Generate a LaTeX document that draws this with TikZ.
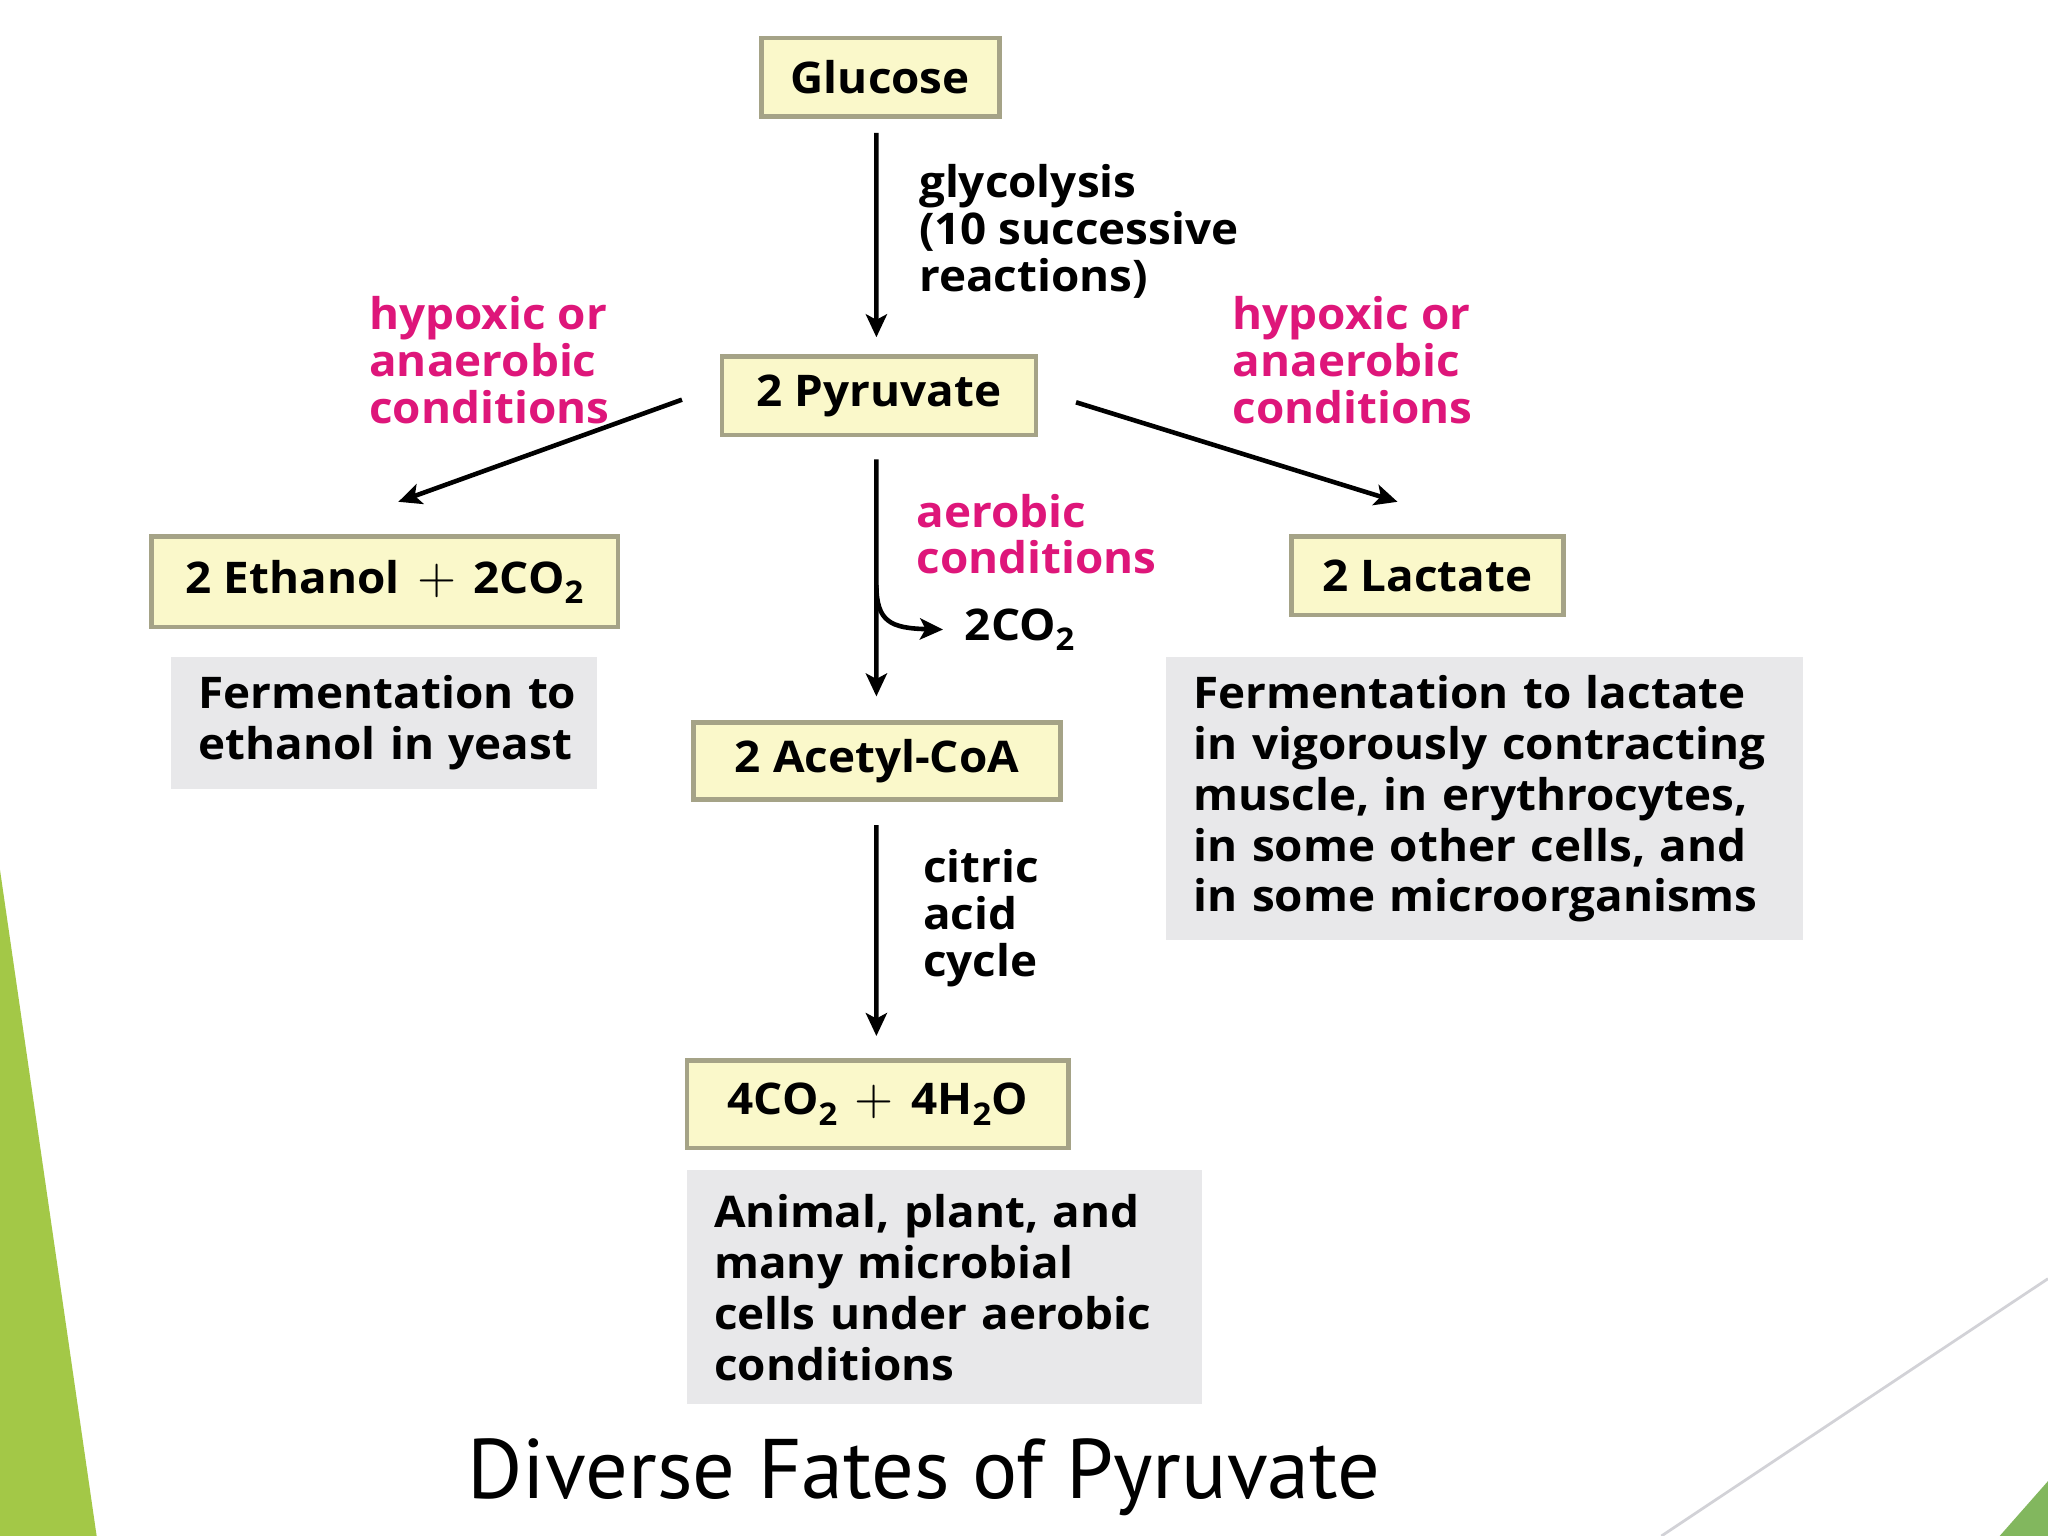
\documentclass[tikz,border=0pt]{standalone}
\usepackage{fontspec}
\setmainfont{Open Sans}[FakeStretch=1.05]
\newfontfamily\titlefont{PT Sans}
\usetikzlibrary{arrows.meta}
\definecolor{boxfill}{RGB}{250,248,202}
\definecolor{boxline}{RGB}{165,163,135}
\definecolor{grayfill}{RGB}{232,232,234}
\definecolor{magentatxt}{RGB}{222,22,122}
\definecolor{leftgreen}{RGB}{163,200,71}
\definecolor{rightgreen}{RGB}{130,183,94}
\definecolor{slideline}{RGB}{210,210,215}
\newcommand{\mysub}[1]{\raisebox{-0.45ex}{\fontsize{6.8}{7}\selectfont #1}}
\newcommand{\myplus}{\hspace{0.4em}{\fontsize{11}{11}\selectfont$+$}\hspace{0.4em}}
\tikzset{
  yellowbox/.style={draw=boxline, line width=1pt, fill=boxfill, inner sep=0pt,
    font=\bfseries\fontsize{9.5}{11}\selectfont},
  graybox/.style={fill=grayfill, inner xsep=0.21cm, inner ysep=0pt, align=left,
    font=\bfseries\fontsize{9.5}{11.1}\selectfont},
  steplabel/.style={anchor=west, inner sep=0pt, align=left,
    font=\bfseries\fontsize{9.5}{10.2}\selectfont},
  condlabel/.style={steplabel, text=magentatxt},
  arr/.style={draw=black, line width=1pt, -{Stealth[length=5pt,width=4.6pt,inset=1.2pt]}}
}
\begin{document}
\begin{tikzpicture}[x=0.01cm,y=-0.01cm]
\useasboundingbox (0,0) rectangle (1568,1176);
\fill[white] (0,0) rectangle (1568,1176);
% slide decorations
\fill[leftgreen] (0,666) -- (74,1176) -- (0,1176) -- cycle;
\draw[slideline, line width=0.6pt] (1272,1176) -- (1568,979);
\fill[rightgreen] (1531,1176) -- (1568,1134) -- (1568,1176) -- cycle;

% product boxes
\node[yellowbox, minimum width=1.82cm, minimum height=0.60cm] (glucose) at (674,59) {Glucose};
\node[yellowbox, minimum width=2.40cm, minimum height=0.60cm] (pyr) at (673,303) {2 Pyruvate};
\node[yellowbox, minimum width=3.57cm, minimum height=0.69cm] (eth) at (294.5,445.5) {2 Ethanol\myplus 2CO\mysub{2}};
\node[yellowbox, minimum width=2.08cm, minimum height=0.60cm] (lact) at (1093,441) {2 Lactate};
\node[yellowbox, minimum width=2.81cm, minimum height=0.59cm] (acetyl) at (671.5,582.5) {2 Acetyl-CoA};
\node[yellowbox, minimum width=2.92cm, minimum height=0.67cm] (final) at (672,845.5) {4CO\mysub{2}\myplus 4H\mysub{2}O};

% description boxes
\node[graybox, text width=2.84cm, minimum height=1.01cm] (ethdesc) at (294,553.5)
  {\mbox{Fermentation to}\\\mbox{ethanol in yeast}};
\node[graybox, text width=4.45cm, minimum height=2.17cm] (lactdesc) at (1136.5,611.5)
  {\mbox{Fermentation to lactate}\\\mbox{in vigorously contracting}\\\mbox{muscle, in erythrocytes,}\\\mbox{in some other cells, and}\\\mbox{in some microorganisms}};
\node[graybox, text width=3.52cm, minimum height=1.79cm] (aerodesc) at (723,985.5)
  {\mbox{Animal, plant, and}\\\mbox{many microbial}\\\mbox{cells under aerobic}\\\mbox{conditions}};

% labels
\node[steplabel] (glyco) at (703,177) {glycolysis\\(10 successive\\reactions)};
\node[condlabel] (hypL) at (282,276) {hypoxic or\\anaerobic\\conditions};
\node[condlabel] (hypR) at (943,276) {hypoxic or\\anaerobic\\conditions};
\node[condlabel] (aero) at (701,409) {aerobic\\conditions};
\node[steplabel] (co2) at (738,482) {2CO\mysub{2}};
\node[steplabel] (citric) at (706,703) {citric\\acid\\cycle};

% connectors
\draw[arr] ([xshift=-0.03cm,yshift=-0.11cm]glucose.south) -- ([xshift=-0.02cm,yshift=0.13cm]pyr.north);
\draw[arr] ([xshift=-0.29cm,yshift=-0.03cm]pyr.west) -- ([xshift=0.105cm,yshift=0.25cm]eth.north);
\draw[arr] ([xshift=0.29cm,yshift=-0.05cm]pyr.east) -- ([xshift=-0.23cm,yshift=0.25cm]lact.north);
\draw[arr] ([xshift=-0.02cm,yshift=-0.17cm]pyr.south) -- ([xshift=-0.005cm,yshift=0.18cm]acetyl.north);
\coordinate (branch) at (671,448);
\draw[arr] (branch) .. controls (671,476) and (682,481) .. ([xshift=-0.16cm]co2.west);
\draw[arr] ([xshift=-0.005cm,yshift=-0.18cm]acetyl.south) -- ([xshift=-0.01cm,yshift=0.17cm]final.north);

% title
\node[inner sep=0pt, font=\titlefont\fontsize{18.4}{20}\selectfont] (title) at (707.5,1131) {Diverse Fates of Pyruvate};
\end{tikzpicture}
\end{document}
